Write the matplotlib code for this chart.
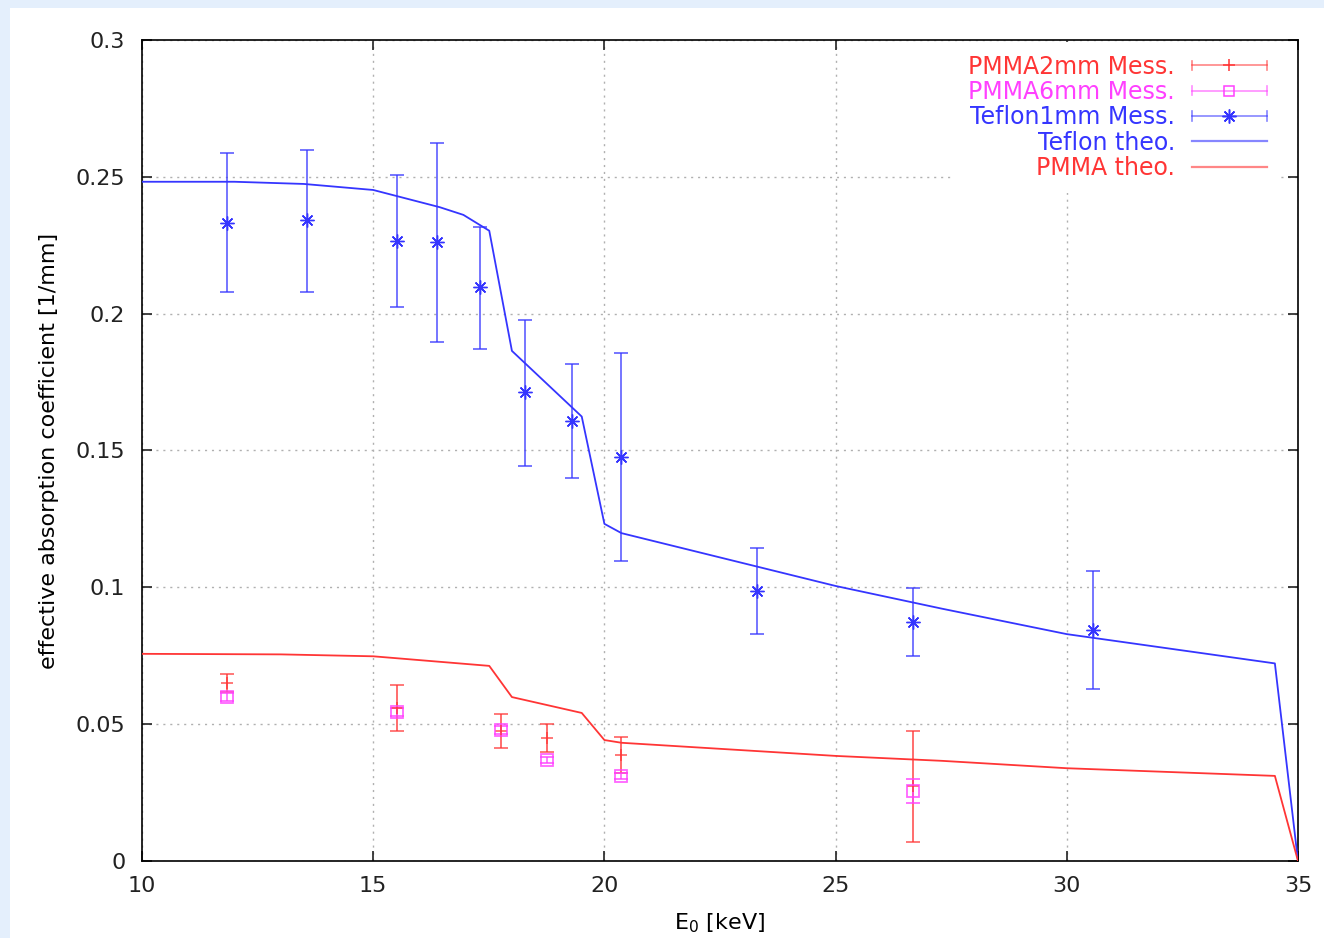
import numpy as np
import matplotlib.pyplot as plt
from matplotlib.lines import Line2D
from matplotlib.legend_handler import HandlerBase
from matplotlib.patches import Rectangle

# theory curves (E0 in keV, mu in 1/mm)
teflon_theo_e = [10.0, 12.0, 13.5, 15.0, 16.44, 16.95, 17.51, 18.0, 19.51, 20.0, 20.37, 25.0, 27.3, 30.0, 34.5, 35.0]
teflon_theo_mu = [0.2482, 0.2482, 0.2474, 0.2452, 0.2389, 0.2361, 0.2303, 0.1864, 0.1624, 0.1232, 0.1198, 0.1005, 0.0922, 0.0829, 0.0722, 0.0]

pmma_theo_e = [10.0, 13.0, 15.0, 17.51, 18.0, 19.51, 20.0, 20.37, 25.0, 27.3, 30.0, 34.5, 35.0]
pmma_theo_mu = [0.0757, 0.0755, 0.0748, 0.0713, 0.0599, 0.0541, 0.0442, 0.0432, 0.0384, 0.0366, 0.0339, 0.0311, 0.0]

# measurements: value, upper and lower end of error bar
teflon_e = [11.84, 13.57, 15.51, 16.38, 17.31, 18.28, 19.29, 20.36, 23.29, 26.68, 30.57]
teflon_mu = [0.2332, 0.2343, 0.2266, 0.2262, 0.2097, 0.1712, 0.1609, 0.1478, 0.0988, 0.0872, 0.0844]
teflon_hi = [0.2588, 0.2599, 0.2507, 0.2624, 0.2318, 0.1977, 0.1816, 0.1857, 0.1145, 0.0999, 0.1060]
teflon_lo = [0.2080, 0.2080, 0.2025, 0.1897, 0.1871, 0.1445, 0.1399, 0.1096, 0.0829, 0.0750, 0.0629]

pmma2_e = [11.84, 15.51, 17.76, 18.75, 20.36, 26.68]
pmma2_mu = [0.0651, 0.0559, 0.0475, 0.0450, 0.0387, 0.0273]
pmma2_hi = [0.0683, 0.0643, 0.0537, 0.0500, 0.0452, 0.0476]
pmma2_lo = [0.0617, 0.0475, 0.0413, 0.0398, 0.0322, 0.0070]

pmma6_e = [11.84, 15.51, 17.76, 18.75, 20.36, 26.68]
pmma6_mu = [0.0600, 0.0545, 0.0479, 0.0369, 0.0311, 0.0257]
pmma6_hi = [0.0615, 0.0560, 0.0495, 0.0380, 0.0322, 0.0300]
pmma6_lo = [0.0585, 0.0530, 0.0463, 0.0358, 0.0300, 0.0213]

blue = "#3535ff"
red = "#ff3535"
pink = "#ff40ff"


class HandlerErrLine(HandlerBase):
    """gnuplot-like key sample: horizontal bar with caps and a point in the middle"""

    def __init__(self, caps=True, **kw):
        super().__init__(**kw)
        self.caps = caps

    def create_artists(self, legend, orig_handle, xdescent, ydescent,
                       width, height, fontsize, trans):
        y = (height - ydescent) / 2.0
        x0, x1 = -xdescent, -xdescent + width
        c = orig_handle.get_color()
        lw = orig_handle.get_linewidth()
        arts = [Line2D([x0, x1], [y, y], color=c, lw=lw, alpha=0.6)]
        if self.caps:
            h = height * 0.28
            for xx in (x0, x1):
                arts.append(Line2D([xx, xx], [y - h, y + h], color=c, lw=lw, alpha=0.6))
            arts.append(Line2D([(x0 + x1) / 2], [y], ls="none",
                               marker=orig_handle.get_marker(),
                               ms=orig_handle.get_markersize(),
                               mfc="none", mec=c, mew=1.1))
        for a in arts:
            a.set_transform(trans)
        return arts


plt.rcParams["font.family"] = ["DejaVu Sans"]

fig = plt.figure(figsize=(13.24, 9.38), dpi=100)
fig.patch.set_facecolor("#e4effc")
panel = Rectangle((10 / 1324, 0), 1, 1 - 8 / 938, transform=fig.transFigure,
                  facecolor="white", edgecolor="none", zorder=-10)
fig.add_artist(panel)
ax = fig.add_axes([142 / 1324, 1 - 861 / 938, 1156 / 1324, 821 / 938])
ax.set_zorder(1)


def err(mu, hi, lo):
    mu = np.array(mu)
    return [mu - np.array(lo), np.array(hi) - mu]


ax.errorbar(pmma2_e, pmma2_mu, yerr=err(pmma2_mu, pmma2_hi, pmma2_lo), fmt="+",
            color=red, ecolor=red, elinewidth=1.2, capsize=5, capthick=1.2, ms=9, mew=1.1,
            alpha=0.85, zorder=3)
ax.errorbar(pmma6_e, pmma6_mu, yerr=err(pmma6_mu, pmma6_hi, pmma6_lo), fmt="s",
            color=pink, ecolor=pink, elinewidth=1.2, capsize=5, capthick=1.2, ms=8, mew=1.3,
            mfc="none", alpha=0.8, zorder=3)
ax.errorbar(teflon_e, teflon_mu, yerr=err(teflon_mu, teflon_hi, teflon_lo), fmt="none",
            ecolor=blue, elinewidth=1.2, capsize=5, capthick=1.2, alpha=0.8, zorder=3)
ax.plot(teflon_e, teflon_mu, ls="none", marker=(8, 2, 0), ms=10, mew=1.0, color=blue, zorder=4)
ax.plot(teflon_theo_e, teflon_theo_mu, color=blue, lw=1.3, zorder=3)
ax.plot(pmma_theo_e, pmma_theo_mu, color=red, lw=1.3, zorder=3)

ax.set_xlim(10, 35)
ax.set_ylim(0, 0.3)
ax.set_xticks(np.arange(10, 36, 5))
ax.set_yticks(np.arange(0, 0.301, 0.05))
ax.set_yticklabels(["0", "0.05", "0.1", "0.15", "0.2", "0.25", "0.3"])
ax.tick_params(direction="in", top=True, right=True, length=7, width=1.2,
               labelsize=16, colors="#222222")
ax.tick_params(axis="y", pad=12)
ax.tick_params(axis="x", pad=11)
for s in ax.spines.values():
    s.set_linewidth(1.2)
ax.grid(True, color="#b0b0b0", linestyle=(0, (1.5, 3.5)), linewidth=1.0)
ax.set_axisbelow(True)

ax.set_xlabel("E$_0$ [keV]", fontsize=16, labelpad=11)
ax.set_ylabel("effective absorption coefficient [1/mm]", fontsize=16, labelpad=12)

handles = [
    Line2D([], [], color=red, marker="+", ms=9, lw=1.2),
    Line2D([], [], color=pink, marker="s", ms=7, lw=1.2),
    Line2D([], [], color=blue, marker=(8, 2, 0), ms=10, lw=1.2),
    Line2D([], [], color=blue, lw=1.6),
    Line2D([], [], color=red, lw=1.6),
]
labels = ["PMMA2mm Mess.", "PMMA6mm Mess.", "Teflon1mm Mess.", "Teflon theo.", "PMMA theo."]
hmap = {handles[0]: HandlerErrLine(), handles[1]: HandlerErrLine(), handles[2]: HandlerErrLine(),
        handles[3]: HandlerErrLine(caps=False), handles[4]: HandlerErrLine(caps=False)}
leg = ax.legend(handles, labels, handler_map=hmap, loc="upper right",
                bbox_to_anchor=(0.9844, 0.998), borderaxespad=0, borderpad=0.55,
                markerfirst=False, labelcolor="linecolor", fontsize=17,
                handlelength=3.18, handletextpad=0.72, labelspacing=0.055,
                frameon=True, fancybox=False, framealpha=1)
leg.get_frame().set_facecolor("white")
leg.get_frame().set_edgecolor("none")
for t in leg.get_texts():
    t.set_horizontalalignment("right")
leg._legend_box.align = "right"

fig.savefig("out.png", dpi=100, facecolor=fig.get_facecolor())
